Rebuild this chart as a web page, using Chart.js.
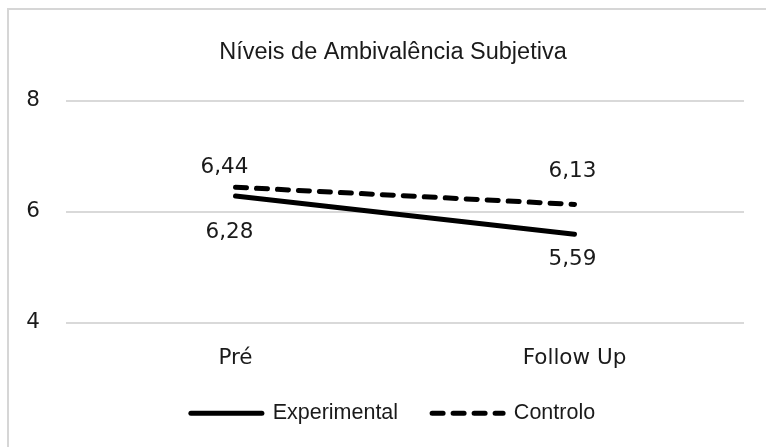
<!DOCTYPE html>
<html>
<head>
<meta charset="utf-8">
<script src="https://cdn.jsdelivr.net/npm/chart.js@4/dist/chart.umd.min.js"></script>
<style>
  html, body { margin: 0; padding: 0; background: #fff; }
  #wrap { position: relative; width: 766px; height: 447px; overflow: hidden; }
  #frame { position: absolute; left: 7px; top: 8px; width: 900px; height: 600px;
           border-left: 2px solid #d6d6d6; border-top: 2px solid #d6d6d6; }
  #chart { position: absolute; left: 0; top: 0; }
</style>
</head>
<body>
<div id="wrap">
  <div id="frame"></div>
  <canvas id="chart" width="766" height="447"></canvas>
</div>
<script>
const categories = ['Pré', 'Follow Up'];
const experimental = [6.28, 5.59];
const controlo = [6.44, 6.13];
const yTicks = [4, 6, 8];

const labelFont = { family: 'DejaVu Sans', size: 21.5 };

// value labels next to the line ends (offsets are just placement, Excel-style)
const valueLabels = {
    id: 'valueLabels',
    afterDatasetsDraw(chart, args, opts) {
        const ctx = chart.ctx;
        ctx.save();
        ctx.font = `${labelFont.size}px "${labelFont.family}"`;
        ctx.fillStyle = '#1a1a1a';
        ctx.textAlign = 'center';
        ctx.textBaseline = 'middle';
        chart.data.datasets.forEach((ds, di) => {
            const meta = chart.getDatasetMeta(di);
            const offs = opts.offsets[di];
            meta.data.forEach((pt, i) => {
                const txt = ds.data[i].toFixed(2).replace('.', ',');
                ctx.fillText(txt, pt.x + offs[i][0], pt.y + offs[i][1]);
            });
        });
        ctx.restore();
    }
};

const ctx = document.getElementById('chart').getContext('2d');
new Chart(ctx, {
    type: 'line',
    data: {
        labels: categories,
        datasets: [{
            label: 'Experimental',
            data: experimental,
            borderColor: '#000',
            backgroundColor: '#000',
            borderWidth: 5,
            borderCapStyle: 'round',
            pointRadius: 0,
            tension: 0
        }, {
            label: 'Controlo',
            data: controlo,
            borderColor: '#000',
            backgroundColor: '#000',
            borderWidth: 5,
            borderDash: [11, 10],
            borderCapStyle: 'round',
            pointRadius: 0,
            tension: 0
        }]
    },
    options: {
        responsive: false,
        animation: false,
        devicePixelRatio: 1,
        layout: { padding: { left: 20, right: 0, top: 0, bottom: 13 } },
        scales: {
            x: {
                offset: true,
                grid: { display: false, drawTicks: false },
                border: { display: false },
                ticks: { padding: 23, color: '#1a1a1a', font: labelFont },
                afterFit: (s) => { s.height = 46; }
            },
            y: {
                min: yTicks[0],
                max: yTicks[yTicks.length - 1],
                ticks: { stepSize: yTicks[1] - yTicks[0], padding: 26, color: '#1a1a1a', font: labelFont },
                grid: { color: '#d9d9d9', lineWidth: 2, drawTicks: false },
                border: { display: false },
                afterFit: (s) => { s.width = 46; }
            },
            // empty right-hand strip so the plot stops short of the frame
            side: {
                position: 'right',
                grid: { display: false, drawTicks: false },
                border: { display: false },
                ticks: { display: false },
                afterFit: (s) => { s.width = 22; }
            }
        },
        plugins: {
            title: {
                display: true,
                text: 'Níveis de Ambivalência Subjetiva',
                color: '#1a1a1a',
                font: { family: 'Liberation Sans', size: 23.5, weight: 'normal' },
                padding: { top: 38, bottom: 34.5 }
            },
            legend: {
                position: 'bottom',
                labels: {
                    usePointStyle: true,
                    pointStyle: 'line',
                    pointStyleWidth: 71,
                    padding: 34,
                    color: '#1a1a1a',
                    font: { family: 'Liberation Sans', size: 21.5 },
                    generateLabels: (chart) => {
                        const items = Chart.defaults.plugins.legend.labels.generateLabels(chart);
                        items.forEach(it => {
                            const ds = chart.data.datasets[it.datasetIndex];
                            it.lineDash = ds.borderDash || [];
                            it.lineWidth = ds.borderWidth;
                            it.lineCap = ds.borderCapStyle;
                            it.strokeStyle = ds.borderColor;
                        });
                        return items;
                    }
                }
            },
            tooltip: { enabled: false },
            valueLabels: {
                offsets: [
                    [[-6, 36], [-2, 25]],
                    [[-11, -20], [-2, -33]]
                ]
            }
        }
    },
    plugins: [valueLabels]
});
</script>
</body>
</html>
